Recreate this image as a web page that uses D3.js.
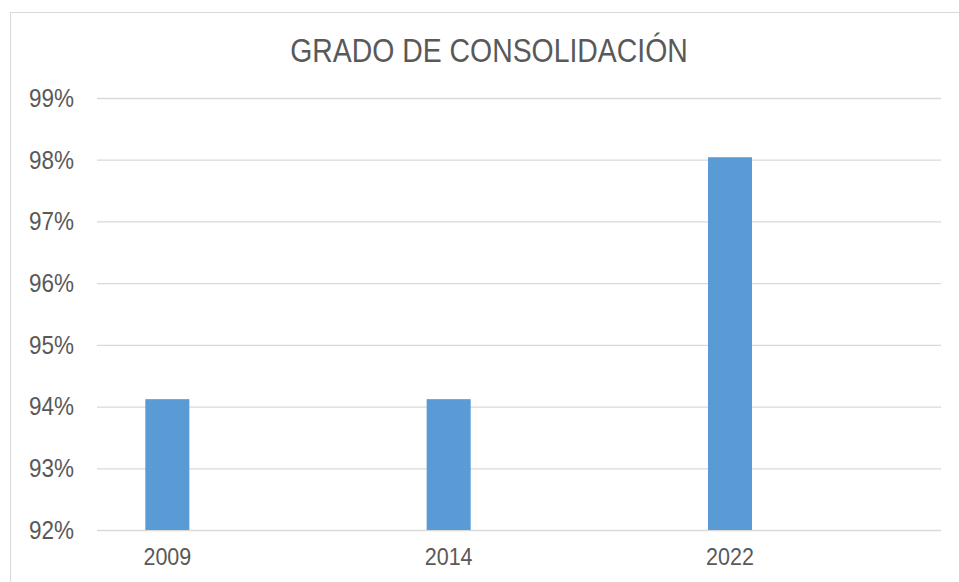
<!DOCTYPE html>
<html>
<head>
<meta charset="utf-8">
<script src="https://cdn.jsdelivr.net/npm/d3@7"></script>
<style>
  html, body { margin: 0; padding: 0; background: #fff; }
  svg { display: block; }
  text { font-family: "Liberation Sans", Arial, sans-serif; fill: #595959; }
</style>
</head>
<body>
<svg id="chart" width="959" height="582"></svg>
<script>
const title = "GRADO DE CONSOLIDACIÓN";
const categories = ["2009", "", "2014", "", "2022", ""];
const values = [94.12, null, 94.12, null, 98.04, null];
const yTicks = [92, 93, 94, 95, 96, 97, 98, 99];

const svg = d3.select("#chart");
const W = 959, H = 582;
const m = { left: 97, right: 18, top: 98, bottom: 52 };
const stretch = 1.15;

// chart area border
svg.append("rect")
  .attr("x", 10.5).attr("y", 12.5)
  .attr("width", 980).attr("height", 600)
  .attr("fill", "#fff").attr("stroke", "#D9D9D9").attr("stroke-width", 1);

const x = d3.scaleBand()
  .domain(categories.map((d, i) => i))
  .range([m.left, W - m.right])
  .paddingInner(0.687).paddingOuter(0.3435);

const y = d3.scaleLinear().domain([92, 99]).range([H - m.bottom, m.top]);

// gridlines
const yAxis = d3.axisLeft(y).tickValues(yTicks)
  .tickSize(-(W - m.right - m.left)).tickPadding(23)
  .tickFormat(d => d + "%");
const gy = svg.append("g").attr("transform", `translate(${m.left},0)`).call(yAxis);
gy.select(".domain").remove();
gy.selectAll(".tick line").attr("stroke", "#D9D9D9").attr("stroke-width", 1.3);
gy.selectAll(".tick text").attr("font-size", 22.5).attr("fill", "#595959")
  .attr("font-family", "'Liberation Sans', Arial, sans-serif")
  .attr("transform", `scale(1,${stretch})`);

// bars
svg.append("g").selectAll("rect")
  .data(values.map((v, i) => ({ i, v })).filter(d => d.v != null))
  .join("rect")
  .attr("x", d => x(d.i))
  .attr("width", x.bandwidth())
  .attr("y", d => y(d.v))
  .attr("height", d => y(92) - y(d.v))
  .attr("fill", "#5B9BD5");

// x axis labels
const xAxis = d3.axisBottom(x).tickSize(0).tickPadding(15.5)
  .tickFormat(i => categories[i]);
const gx = svg.append("g").attr("transform", `translate(0,${H - m.bottom})`).call(xAxis);
gx.select(".domain").remove();
gx.selectAll(".tick text").attr("font-size", 21.5).attr("fill", "#595959")
  .attr("font-family", "'Liberation Sans', Arial, sans-serif")
  .attr("transform", `scale(1,${stretch})`);

// title
svg.append("text")
  .attr("transform", `translate(489,62) scale(1,${stretch + 0.02})`)
  .attr("text-anchor", "middle")
  .attr("font-size", 28.4)
  .text(title);
</script>
</body>
</html>
